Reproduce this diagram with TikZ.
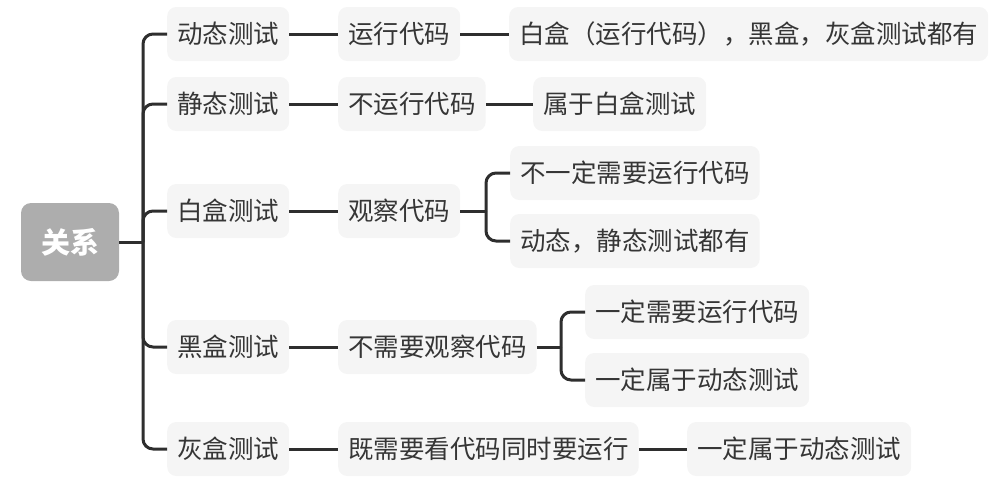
\documentclass[tikz,border=0pt]{standalone}
\usepackage{fontspec}
\usepackage{tikz}
\usetikzlibrary{positioning}
\newfontfamily\cjk{Noto Sans CJK SC}
\definecolor{boxgray}{HTML}{F5F5F5}
\definecolor{rootgray}{HTML}{ADADAD}
\definecolor{inkgray}{HTML}{363636}
\definecolor{linegray}{HTML}{2E2E2E}
\newcommand{\zh}{\cjk\fontsize{25.5}{30}\selectfont}

\begin{document}
\begin{tikzpicture}[x=1pt,y=-1pt,
  topic/.style={fill=boxgray,rounded corners=9pt,minimum height=54pt,
  inner xsep=10pt,inner ysep=2pt,anchor=west,text=inkgray,font=\zh},
  rootnode/.style={fill=rootgray,rounded corners=10pt,minimum width=98pt,
  minimum height=78pt,text=white,font=\cjk\bfseries\fontsize{29}{34}\selectfont},
  link/.style={draw=linegray,line width=3pt},
  fork/.style={link,rounded corners=10pt}]
  \useasboundingbox (0,0) rectangle (1003,485);
  \node[rootnode] (rel) at (70,242) {关系};
  \coordinate (hub) at (143,242);
  \node[topic] (dyn) at (167,34) {动态测试};
  \node[topic] (sta) at (167,104) {静态测试};
  \node[topic] (wb) at (167,211) {白盒测试};
  \node[topic] (bb) at (167,347) {黑盒测试};
  \node[topic] (gb) at (167,449) {灰盒测试};
  \node[topic] (dynrun) at (338,34) {运行代码};
  \node[topic] (starun) at (338,104) {不运行代码};
  \node[topic] (wbobs) at (338,211) {观察代码};
  \node[topic] (bbobs) at (338,347) {不需要观察代码};
  \node[topic] (gbboth) at (338,449) {既需要看代码同时要运行};
  \node[topic] (dynall) at (509,34) {白盒（运行代码），黑盒，灰盒测试都有};
  \node[topic] (stawb) at (533,104) {属于白盒测试};
  \coordinate (wbfork) at (486,211);
  \node[topic,minimum width=248pt] (wbmay) at (510,173) {不一定需要运行代码};
  \node[topic,minimum width=248pt] (wbboth) at (510,241) {动态，静态测试都有};
  \coordinate (bbfork) at (561,347);
  \node[topic] (bbmust) at (585,312) {一定需要运行代码};
  \node[topic] (bbdyn) at (585,380) {一定属于动态测试};
  \node[topic] (gbdyn) at (687,449) {一定属于动态测试};
  \draw[link] (rel.east) -- (hub);
  \foreach \t in {dyn,sta,wb,bb,gb}
    \draw[fork] (hub) |- (\t.west);
  \draw[link] (dyn) -- (dynrun);
  \draw[link] (sta) -- (starun);
  \draw[link] (wb) -- (wbobs);
  \draw[link] (bb) -- (bbobs);
  \draw[link] (gb) -- (gbboth);
  \draw[link] (dynrun) -- (dynall);
  \draw[link] (starun) -- (stawb);
  \draw[link] (gbboth) -- (gbdyn);
  \draw[link] (wbobs.east) -- (wbfork);
  \draw[fork] (wbfork) |- (wbmay.west);
  \draw[fork] (wbfork) |- (wbboth.west);
  \draw[link] (bbobs.east) -- (bbfork);
  \draw[fork] (bbfork) |- (bbmust.west);
  \draw[fork] (bbfork) |- (bbdyn.west);
\end{tikzpicture}
\end{document}
